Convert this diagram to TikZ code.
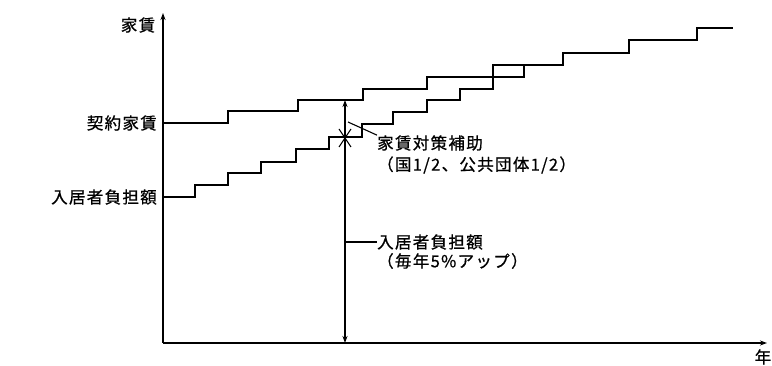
\documentclass[tikz,border=0pt]{standalone}
\usepackage{fontspec}
\newfontfamily\jpfont[LetterSpace=8,FakeBold=0.8]{Noto Sans CJK JP}
\usetikzlibrary{arrows.meta}
\begin{document}
\begin{tikzpicture}[x=1pt,y=-1pt,
  axis/.style={line width=1.2pt,-{Stealth[length=7pt,width=5pt]}},
  curve/.style={line width=1.3pt,line join=miter},
  lbl/.style={inner sep=0pt,font=\jpfont\fontsize{16.5}{18}\selectfont},
  thin/.style={line width=1.1pt}]
\useasboundingbox[fill=white] (0,0) rectangle (772,366);
% axes
\coordinate (O) at (163,343);
\coordinate (ytop) at (163,13);
\coordinate (xend) at (767,343);
\draw[axis] (O) -- (ytop);
\draw[axis] (O) -- (xend);
% contract rent
\draw[curve] (163,123) -- (228,123) -- (228,111) -- (298,111) -- (298,100) -- (363,100)
  -- (363,89) -- (427,89) -- (427,77) -- (493,77) -- (493,65) -- (563,65)
  -- (563,53) -- (629,53) -- (629,40) -- (697,40) -- (697,28) -- (733,28);
% tenant burden
\draw[curve] (163,197) -- (195,197) -- (195,185) -- (228,185) -- (228,173) -- (261,173)
  -- (261,162) -- (296,162) -- (296,149) -- (329,149) -- (329,137) -- (362,137)
  -- (362,124) -- (393,124) -- (393,112) -- (427,112) -- (427,100) -- (460,100)
  -- (460,89) -- (493,89) -- (493,77) -- (524,77) -- (524,65);
% vertical arrows
\coordinate (vtop) at (345,100);
\coordinate (vmid) at (345,138);
\coordinate (vbot) at (345,343);
\draw[thin,{Stealth[length=7pt,width=5pt]}-{Stealth[length=7pt,width=5pt]}] (vbot) -- (vtop);
% X mark
\draw[thin] (339,129) -- (351,147);
\draw[thin] (351,129) -- (339,147);
% labels
\node[lbl] (yl) at (138,25) {家賃};
\node[lbl,anchor=east] (kl) at (157,123) {契約家賃};
\node[lbl,anchor=east] (nl) at (157,197) {入居者負担額};
\node[lbl,anchor=west] (sub1) at (377,143) {家賃対策補助};
\node[lbl,anchor=west] (sub2) at (377,165) {（国1/2、公共団体1/2）};
\node[lbl,anchor=west] (bur1) at (377,242) {入居者負担額};
\node[lbl,anchor=west] (bur2) at (377,261) {（毎年5\%アップ）};
\node[lbl] (xl) at (763,357) {年};
% leaders
\coordinate (lead1) at (348,122);
\draw[thin] (lead1) -- (sub1.north west);
\coordinate (lead2) at (345,242);
\draw[thin] (lead2) -- (bur1.west);
\end{tikzpicture}
\end{document}
